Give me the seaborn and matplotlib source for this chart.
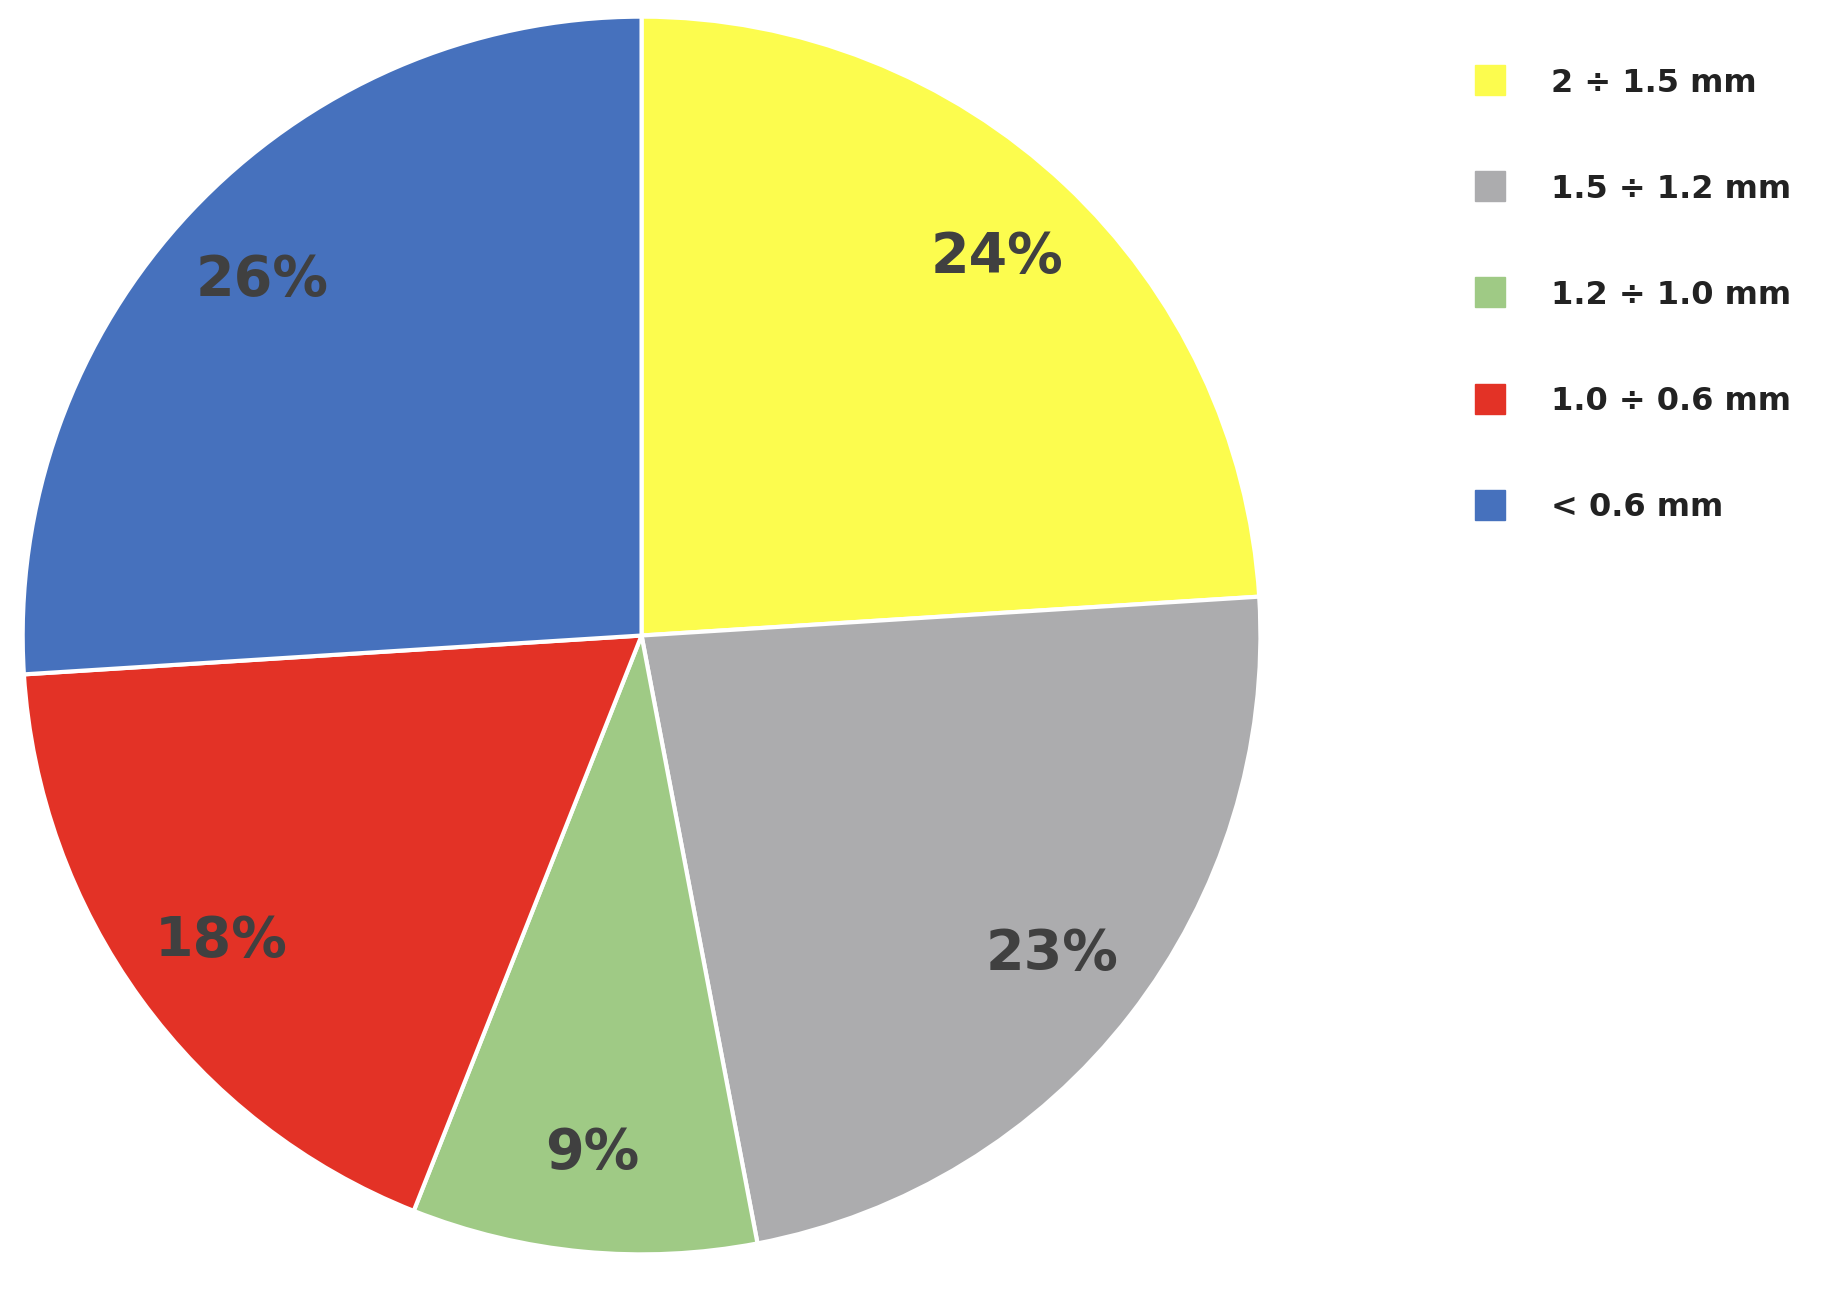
import matplotlib
matplotlib.use("Agg")
import matplotlib.pyplot as plt
import seaborn as sns
from matplotlib.lines import Line2D

labels = ["2 \u00f7 1.5 mm", "1.5 \u00f7 1.2 mm", "1.2 \u00f7 1.0 mm", "1.0 \u00f7 0.6 mm", "< 0.6 mm"]
values = [24, 23, 9, 18, 26]
colors = ["#fcfc4e", "#acacae", "#9fca85", "#e33226", "#4671bd"]

sns.set_theme(style="white")
plt.rcParams['font.family'] = ['DejaVu Sans']

fig = plt.figure(figsize=(18.33, 12.93), dpi=100)
ax = fig.add_axes([0.009, 0.025, 0.682, 0.967])
wedges, texts, autotexts = ax.pie(
    values, colors=colors, startangle=90, counterclock=False,
    autopct="%d%%", pctdistance=0.84,
    wedgeprops=dict(edgecolor="white", linewidth=3),
    textprops=dict(fontsize=40, fontweight="bold", color="#404040"))
ax.set_xlim(-1.01, 1.01)
ax.set_ylim(-1.01, 1.01)
ax.set_aspect("equal")

handles = [Line2D([0], [0], marker="s", linestyle="", markersize=22,
                  markerfacecolor=c, markeredgecolor=c) for c in colors]
leg = fig.legend(handles, labels, loc="upper left", bbox_to_anchor=(0.78, 0.97),
                 frameon=False, labelspacing=2.35, handletextpad=0.9,
                 prop=dict(size=23, weight="bold"))
for t in leg.get_texts():
    t.set_color("#222222")

fig.savefig("out.png", dpi=100)
